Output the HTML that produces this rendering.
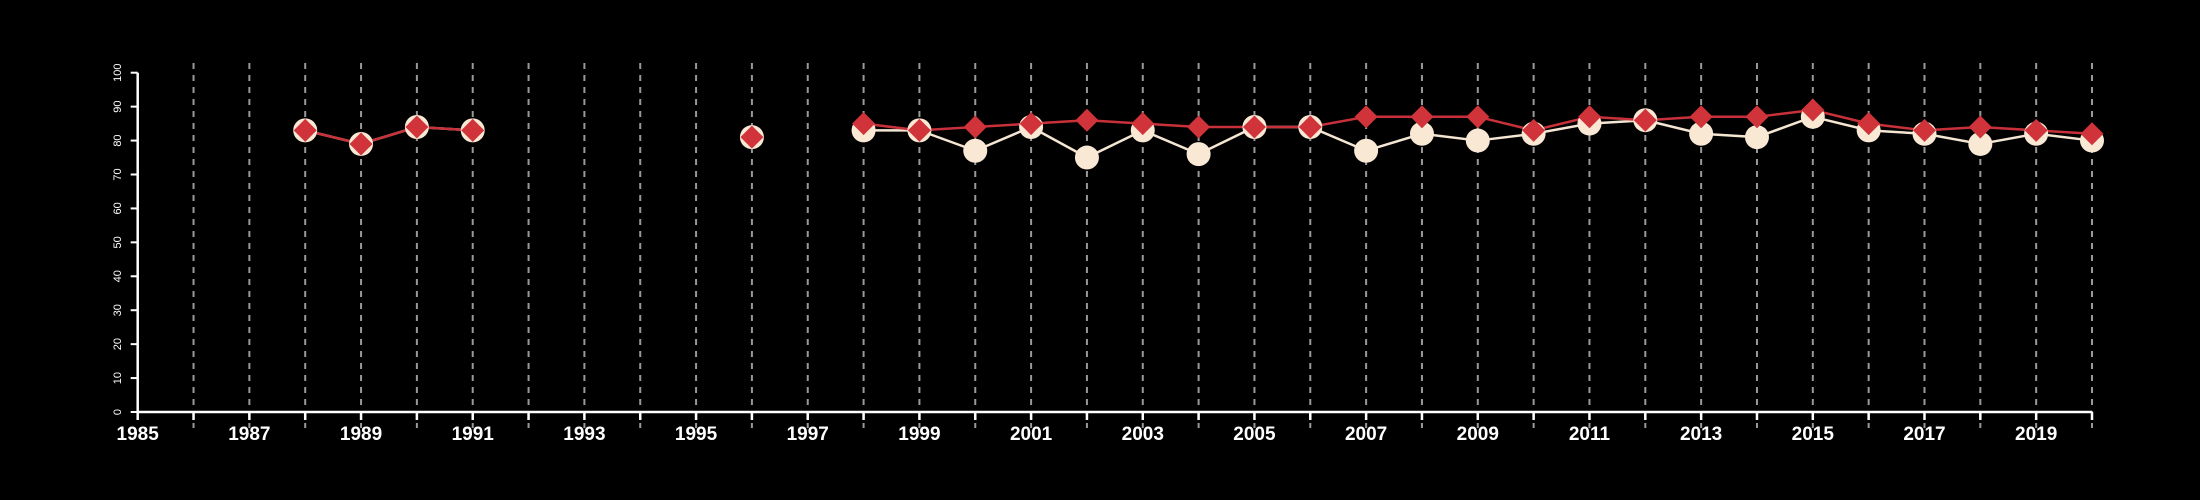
<!DOCTYPE html>
<html><head><meta charset="utf-8"><style>
html,body{margin:0;padding:0;background:#000;}
svg{display:block;}
text{font-family:"Liberation Sans",sans-serif;fill:#fff;}
</style></head><body>
<svg id="chart" width="2200" height="500" viewBox="0 0 2200 500" xmlns="http://www.w3.org/2000/svg">
<rect width="2200" height="500" fill="#000"/>
<g id="grid"></g><g id="axes"></g><g id="series"></g>
</svg>
<script>
const years = [1988,1989,1990,1991,1996,1998,1999,2000,2001,2002,2003,2004,2005,2006,2007,2008,2009,2010,2011,2012,2013,2014,2015,2016,2017,2018,2019,2020];
const whiteValues = [83,79,84,83,81,83,83,77,84,75,83,76,84,84,77,82,80,82,85,86,82,81,87,83,82,79,82,80];
const redValues = [83,79,84,83,81,85,83,84,85,86,85,84,84,84,87,87,87,83,87,86,87,87,89,85,83,84,83,82];
const yTicks = [0,10,20,30,40,50,60,70,80,90,100];
const xTickLabels = [1985,1987,1989,1991,1993,1995,1997,1999,2001,2003,2005,2007,2009,2011,2013,2015,2017,2019];

const NS="http://www.w3.org/2000/svg";
const x0=137.7,x1=2092,yMin=1985,yMax=2020;
const py0=412,py1=72.7;
const X=v=>x0+(v-yMin)*(x1-x0)/(yMax-yMin);
const Y=v=>py0+(v-0)*(py1-py0)/100;
function mk(tag,attrs,parent){const e=document.createElementNS(NS,tag);for(const k in attrs)e.setAttribute(k,attrs[k]);parent.appendChild(e);return e;}
const grid=document.getElementById('grid'),axes=document.getElementById('axes'),series=document.getElementById('series');

for(let yr=yMin+1;yr<=yMax;yr++){
  const l=mk('line',{x1:X(yr),x2:X(yr),y1:63,y2:428,stroke:'#999','stroke-width':2,'stroke-dasharray':'6,6'},grid);
  
  
}
const xa=mk('line',{x1:X(yMin),x2:X(yMax),y1:py0,y2:py0,stroke:'#fff','stroke-width':2.5},axes);


for(let yr=yMin;yr<=yMax;yr++){
  const t=mk('line',{x1:X(yr),x2:X(yr),y1:py0,y2:py0+8,stroke:'#fff','stroke-width':2.5},axes);
  
  
}
xTickLabels.forEach(v=>{
  const t=mk('text',{x:X(v),y:440,'text-anchor':'middle','font-size':19,'font-weight':'bold'},axes);
  t.textContent=v;
  
  
});
const ya=mk('line',{x1:x0,x2:x0,y1:Y(0),y2:Y(100),stroke:'#fff','stroke-width':2.5},axes);


yTicks.forEach(v=>{
  const t=mk('line',{x1:x0-7,x2:x0,y1:Y(v),y2:Y(v),stroke:'#fff','stroke-width':2},axes);
  
  
  const tx=mk('text',{x:0,y:0,'text-anchor':'middle','font-size':11,transform:`translate(121,${Y(v)}) rotate(-90)`},axes);
  tx.textContent=v;
  
  
});
function drawLines(vals,color,name){
  for(let i=1;i<years.length;i++){
    if(years[i]-years[i-1]!==1)continue;
    const l=mk('line',{x1:X(years[i-1]),y1:Y(vals[i-1]),x2:X(years[i]),y2:Y(vals[i]),stroke:color,'stroke-width':2.5},series);
    
    
  }
}
drawLines(whiteValues,'#f5e6d3','white-series');
drawLines(redValues,'#c8313a','red-series');
years.forEach((yr,i)=>{
  const c=mk('circle',{cx:X(yr),cy:Y(whiteValues[i]),r:12,fill:'#f8e8d4'},series);
  
  
});
years.forEach((yr,i)=>{
  const cx=X(yr),cy=Y(redValues[i]),d=11.5;
  const p=mk('polygon',{points:`${cx},${cy-d} ${cx+d},${cy} ${cx},${cy+d} ${cx-d},${cy}`,fill:'#d0343a'},series);
  
  
});
</script>
</body></html>
